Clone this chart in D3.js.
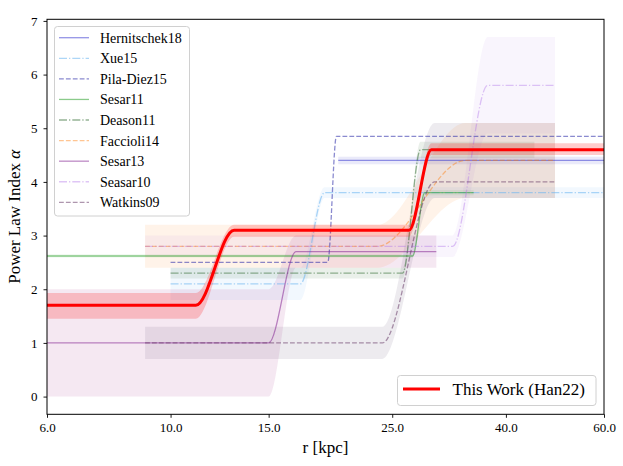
<!DOCTYPE html>
<html><head><meta charset="utf-8">
<script src="https://cdn.jsdelivr.net/npm/d3@7"></script>
<style>
body{margin:0;background:#fff}
svg{display:block;font-family:"Liberation Serif","Times New Roman",serif}
</style>
</head><body>
<svg id="chart" width="623" height="466" font-family='"Liberation Serif","Times New Roman",serif'></svg>
<script>
// ---------- data ----------
const xTickValues = [6, 10, 15, 25, 40, 60];
const yTickValues = [0, 1, 2, 3, 4, 5, 6, 7];
const seriesNames = ["Hernitschek18","Xue15","Pila-Diez15","Sesar11","Deason11","Faccioli14","Sesar13","Seasar10","Watkins09"];
const thisWorkName = "This Work (Han22)";

// knots: radius r [kpc], index alpha, band low, band high
const hernR  = [20, 60];                 const hernA  = [4.4, 4.4];
const hernLo = [4.33, 4.33];             const hernHi = [4.47, 4.47];

const xueR   = [10, 17.1, 18.9, 60];     const xueA   = [2.1, 2.1, 3.8, 3.8];
const xueLo  = [1.8, 1.8, 3.7, 3.7];     const xueHi  = [2.4, 2.4, 3.9, 3.9];

const pilaR  = [10, 19.15, 19.85, 60];   const pilaA  = [2.5, 2.5, 4.85, 4.85];

const sesar11R  = [6, 27.2, 28.6, 35];   const sesar11A  = [2.62, 2.62, 3.8, 3.8];
const sesar11Lo = [2.59, 2.59, 3.75, 3.75]; const sesar11Hi = [2.65, 2.65, 3.85, 3.85];

const deasonR  = [10, 26.1, 28.1, 45];   const deasonA  = [2.3, 2.3, 4.6, 4.6];
const deasonLo = [2.2, 2.2, 4.45, 4.45]; const deasonHi = [2.4, 2.4, 4.75, 4.75];

const faccR  = [9, 23.5, 33.8, 49];      const faccA  = [2.8, 2.8, 4.4, 4.4];
const faccLo = [2.4, 2.4, 3.7, 3.7];     const faccHi = [3.2, 3.2, 5.1, 5.1];

const sesar13R  = [6, 15.0, 16.8, 30];   const sesar13A  = [1.0, 1.0, 2.7, 2.7];
const sesar13Lo = [0.0, 0.0, 2.4, 2.4];  const sesar13Hi = [2.0, 2.0, 3.0, 3.0];

const sesar10R  = [9, 32.1, 37.1, 49];   const sesar10A  = [2.8, 2.8, 5.8, 5.8];
const sesar10Lo = [2.6, 2.6, 4.9, 4.9];  const sesar10Hi = [3.0, 3.0, 6.7, 6.7];

const watkR  = [9, 24.0, 29.8, 49];      const watkA  = [1.0, 1.0, 4.0, 4.0];
const watkLo = [0.7, 0.7, 3.7, 3.7];     const watkHi = [1.3, 1.3, 5.1, 5.1];

const hanR  = [6, 11.1, 13.0, 26.8, 29.4, 60];
const hanA  = [1.7, 1.7, 3.1, 3.1, 4.6, 4.6];
const hanLo = [1.45, 1.45, 2.98, 2.98, 4.5, 4.5];
const hanHi = [1.93, 1.93, 3.2, 3.2, 4.72, 4.72];

// ---------- styles ----------
const DASH = "4.8,2.1", DASHDOT = "8,2,1.3,2";
const series = [
  {name: seriesNames[0], r: hernR, a: hernA, lo: hernLo, hi: hernHi, color: "#3c3cd0", band: "#3c3cd0", op: 0.55, dash: null, bandOp: 0.11},
  {name: seriesNames[1], r: xueR, a: xueA, lo: xueLo, hi: xueHi, color: "#6ab4f0", band: "#6ab4f0", op: 0.55, dash: DASHDOT, bandOp: 0.09},
  {name: seriesNames[2], r: pilaR, a: pilaA, lo: null, hi: null, color: "#2a2aa8", band: null, op: 0.55, dash: DASH, bandOp: 0},
  {name: seriesNames[3], r: sesar11R, a: sesar11A, lo: sesar11Lo, hi: sesar11Hi, color: "#2ca02c", band: "#2ca02c", op: 0.55, dash: null, bandOp: 0.08},
  {name: seriesNames[4], r: deasonR, a: deasonA, lo: deasonLo, hi: deasonHi, color: "#2e6a2e", band: "#2e6a2e", op: 0.5, dash: DASHDOT, bandOp: 0.1},
  {name: seriesNames[5], r: faccR, a: faccA, lo: faccLo, hi: faccHi, color: "#ff7f0e", band: "#ff7f0e", op: 0.45, dash: DASH, bandOp: 0.09},
  {name: seriesNames[6], r: sesar13R, a: sesar13A, lo: sesar13Lo, hi: sesar13Hi, color: "#862a96", band: "#9b2080", op: 0.55, dash: null, bandOp: 0.1},
  {name: seriesNames[7], r: sesar10R, a: sesar10A, lo: sesar10Lo, hi: sesar10Hi, color: "#b070e8", band: "#b070e8", op: 0.4, dash: DASHDOT, bandOp: 0.07},
  {name: seriesNames[8], r: watkR, a: watkA, lo: watkLo, hi: watkHi, color: "#5e2e5e", band: "#4a3a66", op: 0.5, dash: DASH, bandOp: 0.1}
];
const han = {name: thisWorkName, r: hanR, a: hanA, lo: hanLo, hi: hanHi, color: "#ff0000"};

// ---------- layout ----------
const W = 623, H = 466;
const m = {left: 47, right: 19, top: 19.3, bottom: 51.7};
const svg = d3.select("#chart");
const x = d3.scaleLog().domain([6, 60]).range([m.left, W - m.right]);
const y = d3.scaleLinear().domain([-0.33, 7.03]).range([H - m.bottom, m.top]);

svg.append("defs").append("clipPath").attr("id", "clip")
  .append("rect").attr("x", m.left).attr("y", m.top)
  .attr("width", W - m.left - m.right).attr("height", H - m.top - m.bottom);

const plot = svg.append("g").attr("clip-path", "url(#clip)");

const pts = s => s.r.map((r, i) => ({r, a: s.a[i], lo: s.lo ? s.lo[i] : null, hi: s.hi ? s.hi[i] : null}));
const line = d3.line().x(d => x(d.r)).y(d => y(d.a)).curve(d3.curveMonotoneX);
const area = d3.area().x(d => x(d.r)).y0(d => y(d.lo)).y1(d => y(d.hi)).curve(d3.curveMonotoneX);

// bands
series.forEach(s => {
  if (!s.lo) return;
  plot.append("path").datum(pts(s)).attr("d", area)
    .attr("fill", s.band).attr("fill-opacity", s.bandOp).attr("stroke", "none");
});
// lines
series.forEach(s => {
  plot.append("path").datum(pts(s)).attr("d", line)
    .attr("fill", "none").attr("stroke", s.color).attr("stroke-opacity", s.op)
    .attr("stroke-width", 1.3).attr("stroke-dasharray", s.dash);
});
// this work
plot.append("path").datum(pts(han)).attr("d", area)
  .attr("fill", han.color).attr("fill-opacity", 0.2);
plot.append("path").datum(pts(han)).attr("d", line)
  .attr("fill", "none").attr("stroke", han.color).attr("stroke-width", 3);

// ---------- axes ----------
const FONT = '"Liberation Serif","Times New Roman",serif';
const xAxis = d3.axisBottom(x).tickValues(xTickValues).tickFormat(d3.format(".1f")).tickSize(3.5).tickPadding(5);
const yAxis = d3.axisLeft(y).tickValues(yTickValues).tickFormat(d3.format("d")).tickSize(3.5).tickPadding(6);
const gx = svg.append("g").attr("transform", `translate(0,${H - m.bottom})`).call(xAxis);
const gy = svg.append("g").attr("transform", `translate(${m.left},0)`).call(yAxis);
[gx, gy].forEach(g => {
  g.attr("font-family", FONT);
  g.select(".domain").remove();
  g.selectAll(".tick line").attr("stroke", "#000").attr("stroke-width", 0.9);
  g.selectAll(".tick text").attr("font-size", 13).attr("fill", "#000").attr("font-family", FONT);
});
svg.append("rect").attr("x", m.left).attr("y", m.top)
  .attr("width", W - m.left - m.right).attr("height", H - m.top - m.bottom)
  .attr("fill", "none").attr("stroke", "#000").attr("stroke-width", 1);

svg.append("text").attr("x", (m.left + W - m.right) / 2).attr("y", 453)
  .attr("text-anchor", "middle").attr("font-size", 17).attr("font-family", FONT).text("r [kpc]");
const yl = svg.append("text").attr("transform", `translate(20,${(m.top + H - m.bottom) / 2}) rotate(-90)`)
  .attr("text-anchor", "middle").attr("font-size", 17).attr("font-family", FONT);
yl.append("tspan").text("Power Law Index ");
yl.append("tspan").attr("font-style", "italic").text("α");

// ---------- legends ----------
const lg = svg.append("g").attr("font-family", FONT);
lg.append("rect").attr("x", 54.5).attr("y", 26.5).attr("width", 135).attr("height", 189.5)
  .attr("rx", 3).attr("fill", "#fff").attr("fill-opacity", 0.8).attr("stroke", "#d0d0d0").attr("stroke-width", 1);
series.forEach((s, i) => {
  const yy = 37.7 + i * 20.58;
  lg.append("line").attr("x1", 59).attr("x2", 89).attr("y1", yy).attr("y2", yy)
    .attr("stroke", s.color).attr("stroke-opacity", s.op).attr("stroke-width", 1.3)
    .attr("stroke-dasharray", s.dash);
  lg.append("text").attr("x", 100).attr("y", yy).attr("dy", "0.35em")
    .attr("font-size", 14).attr("fill", "#000").text(s.name);
});
const lg2 = svg.append("g").attr("font-family", FONT);
lg2.append("rect").attr("x", 397.5).attr("y", 375.5).attr("width", 198.5).attr("height", 30)
  .attr("rx", 3).attr("fill", "#fff").attr("fill-opacity", 0.8).attr("stroke", "#d0d0d0").attr("stroke-width", 1);
lg2.append("line").attr("x1", 403).attr("x2", 440).attr("y1", 389).attr("y2", 389)
  .attr("stroke", han.color).attr("stroke-width", 3);
lg2.append("text").attr("x", 452.5).attr("y", 389).attr("dy", "0.35em")
  .attr("font-size", 17).attr("fill", "#000").text(han.name);
</script>
</body></html>
